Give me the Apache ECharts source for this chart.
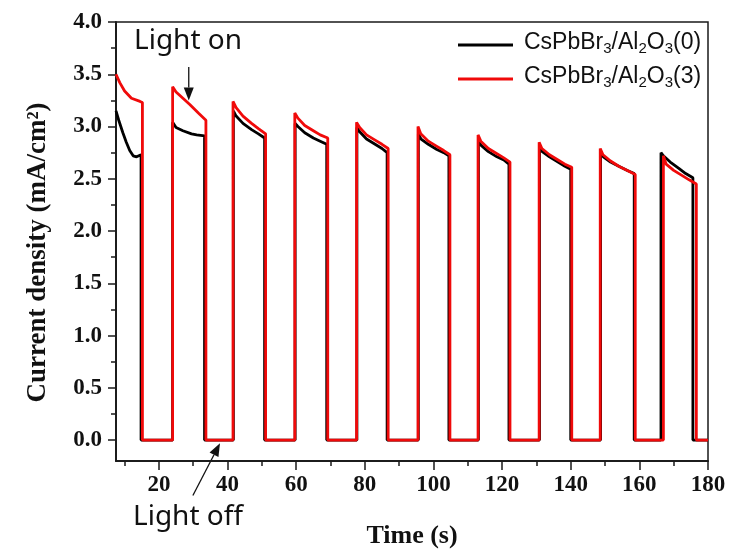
<!DOCTYPE html>
<html>
<head>
  <meta charset="utf-8">
  <title>Current density - Time</title>
  <script src="https://cdn.jsdelivr.net/npm/echarts@6/dist/echarts.min.js"></script>
  <style>
    html, body { margin: 0; padding: 0; background: #fff; }
    #chart { width: 730px; height: 554px; }
  </style>
</head>
<body>
<div id="chart"></div>
<script>
  // 坐标范围和刻度
  var timeRange = [7.5, 180];
  var currentRange = [-0.2, 4.0];
  var timeTicks = [20, 40, 60, 80, 100, 120, 140, 160, 180];
  var timeMinorTicks = [10, 30, 50, 70, 90, 110, 130, 150, 170];
  var currentTicks = [0, 0.5, 1.0, 1.5, 2.0, 2.5, 3.0, 3.5, 4.0];
  var currentMinorTicks = [0.25, 0.75, 1.25, 1.75, 2.25, 2.75, 3.25, 3.75];
  var offLevel = 0;

  var seriesNames = ['CsPbBr3/Al2O3(0)', 'CsPbBr3/Al2O3(3)'];
  var legendRich = [
    '{n|CsPbBr}{s|3}{n|/Al}{s|2}{n|O}{s|3}{n|(0)}',
    '{n|CsPbBr}{s|3}{n|/Al}{s|2}{n|O}{s|3}{n|(3)}'
  ];

  // 光照段 [time, current]
  var blackOn = [
    [[7.5, 3.15], [8.3, 3.06], [9.5, 2.94], [10.5, 2.85], [11.5, 2.77], [12.5, 2.72], [13.5, 2.71], [14.8, 2.73]],
    [[24.0, 3.04], [25.0, 2.99], [27.0, 2.96], [29.5, 2.93], [31.0, 2.92], [33.3, 2.91]],
    [[41.7, 3.15], [42.5, 3.10], [44.5, 3.03], [47.0, 2.97], [49.0, 2.93], [50.8, 2.89]],
    [[59.7, 3.03], [60.5, 3.00], [62.5, 2.94], [65.0, 2.89], [67.0, 2.86], [68.9, 2.83]],
    [[77.7, 2.99], [78.5, 2.95], [80.5, 2.88], [83.0, 2.83], [85.0, 2.79], [86.5, 2.75]],
    [[95.6, 2.93], [96.4, 2.88], [98.5, 2.83], [101.0, 2.78], [103.0, 2.75], [104.5, 2.72]],
    [[113.1, 2.86], [113.9, 2.82], [116.0, 2.76], [118.5, 2.71], [120.5, 2.68], [122.0, 2.64]],
    [[130.9, 2.80], [131.7, 2.76], [133.8, 2.71], [136.3, 2.66], [138.3, 2.62], [140.0, 2.59]],
    [[148.7, 2.75], [149.5, 2.71], [151.6, 2.66], [154.0, 2.62], [156.5, 2.58], [158.5, 2.55]],
    [[166.3, 2.75], [167.0, 2.72], [169.0, 2.66], [171.5, 2.60], [173.5, 2.55], [175.6, 2.51]]
  ];
  var redOn = [
    [[7.5, 3.50], [8.6, 3.42], [10.0, 3.34], [12.0, 3.27], [14.5, 3.24], [15.2, 3.23]],
    [[24.0, 3.38], [25.0, 3.33], [27.0, 3.27], [29.0, 3.21], [31.5, 3.13], [33.7, 3.06]],
    [[41.6, 3.24], [42.5, 3.18], [44.5, 3.10], [47.0, 3.03], [49.0, 2.98], [51.1, 2.93]],
    [[59.6, 3.13], [60.5, 3.08], [62.5, 3.01], [65.0, 2.96], [67.0, 2.92], [69.2, 2.89]],
    [[77.6, 3.04], [78.5, 2.99], [80.5, 2.92], [83.0, 2.87], [85.0, 2.83], [86.8, 2.79]],
    [[95.5, 3.00], [96.3, 2.93], [98.5, 2.86], [101.0, 2.81], [103.0, 2.77], [104.8, 2.73]],
    [[113.0, 2.92], [113.8, 2.86], [116.0, 2.79], [118.5, 2.74], [120.5, 2.70], [122.3, 2.66]],
    [[130.8, 2.85], [131.6, 2.79], [133.8, 2.73], [136.3, 2.68], [138.3, 2.64], [140.3, 2.61]],
    [[148.6, 2.79], [149.4, 2.73], [151.6, 2.67], [154.0, 2.62], [156.5, 2.58], [158.8, 2.54]],
    [[167.0, 2.72], [167.8, 2.64], [170.0, 2.58], [172.5, 2.53], [174.5, 2.49], [176.6, 2.45]]
  ];

  // 注释箭头 [起点, 终点]
  var lightOnArrow = [[28.7, 3.57], [28.7, 3.25]];
  var lightOffArrow = [[29.9, -0.53], [37.8, -0.03]];

  // 光照段之间接上暗电流
  function buildTrace(cycles) {
    var pts = [];
    cycles.forEach(function (seg, i) {
      if (i > 0) pts.push([seg[0][0], offLevel]);
      seg.forEach(function (p) { pts.push(p); });
      pts.push([seg[seg.length - 1][0], offLevel]);
    });
    pts.push([timeRange[1], offLevel]);
    return pts;
  }

  var serif = '"Liberation Serif", "Times New Roman", serif';
  var sans = '"Liberation Sans", Arial, sans-serif';
  var axisColor = '#1a1a1a';

  var chart = echarts.init(document.getElementById('chart'));

  var option = {
    animation: false,
    backgroundColor: '#fff',
    grid: {
      left: 116, right: 22, top: 22, bottom: 92,
      show: true, borderColor: axisColor, borderWidth: 1.5, backgroundColor: 'transparent'
    },
    legend: {
      orient: 'vertical',
      left: 453,
      top: 26,
      itemGap: 6,
      itemWidth: 55,
      itemHeight: 3,
      icon: 'rect',
      data: seriesNames,
      formatter: function (name) {
        return legendRich[seriesNames.indexOf(name)];
      },
      textStyle: {
        padding: [0, 0, 0, 6],
        rich: {
          n: { fontFamily: sans, fontSize: 23, color: '#111', lineHeight: 22, padding: [0, 0, 5, 0] },
          s: { fontFamily: sans, fontSize: 15, color: '#111', lineHeight: 15, verticalAlign: 'bottom' }
        }
      }
    },
    xAxis: [{
      type: 'value',
      position: 'bottom',
      min: timeRange[0], max: timeRange[1],
      name: 'Time (s)',
      nameLocation: 'middle',
      nameGap: 62,
      nameTextStyle: { fontFamily: serif, fontWeight: 'bold', fontSize: 26, color: '#111' },
      splitLine: { show: false },
      axisLine: { onZero: false, lineStyle: { color: axisColor, width: 1.5 } },
      axisTick: { show: true, customValues: timeTicks, length: 9, lineStyle: { color: axisColor, width: 1.5 } },
      axisLabel: {
        customValues: timeTicks, margin: 13,
        fontFamily: serif, fontWeight: 'bold', fontSize: 23, color: '#111'
      }
    }, {
      type: 'value',
      position: 'bottom',
      min: timeRange[0], max: timeRange[1],
      splitLine: { show: false },
      axisLine: { show: true, onZero: false, lineStyle: { color: axisColor, width: 1.5 } },
      axisLabel: { show: false },
      axisTick: { show: true, customValues: timeMinorTicks, length: 5, lineStyle: { color: axisColor, width: 1.5 } }
    }],
    yAxis: [{
      type: 'value',
      position: 'left',
      min: currentRange[0], max: currentRange[1],
      name: 'Current density (mA/cm\u00b2)',
      nameLocation: 'middle',
      nameRotate: 90,
      nameGap: 64,
      nameTextStyle: {
        fontFamily: serif, fontWeight: 'bold', fontSize: 27, color: '#111',
        padding: [0, 22, 0, 0]
      },
      splitLine: { show: false },
      axisLine: { onZero: false, lineStyle: { color: axisColor, width: 1.5 } },
      axisTick: { show: true, customValues: currentTicks, length: 8, lineStyle: { color: axisColor, width: 1.5 } },
      axisLabel: {
        customValues: currentTicks, margin: 14,
        fontFamily: serif, fontWeight: 'bold', fontSize: 23, color: '#111',
        formatter: function (v) { return v.toFixed(1); }
      }
    }, {
      type: 'value',
      position: 'left',
      min: currentRange[0], max: currentRange[1],
      splitLine: { show: false },
      axisLine: { show: true, onZero: false, lineStyle: { color: axisColor, width: 1.5 } },
      axisLabel: { show: false },
      axisTick: { show: true, customValues: currentMinorTicks, length: 5, lineStyle: { color: axisColor, width: 1.5 } }
    }],
    series: [{
      name: seriesNames[0],
      type: 'line',
      xAxisIndex: 0, yAxisIndex: 0,
      symbol: 'none',
      color: '#000',
      lineStyle: { color: '#000', width: 2.8 },
      data: buildTrace(blackOn)
    }, {
      name: seriesNames[1],
      type: 'line',
      xAxisIndex: 0, yAxisIndex: 0,
      symbol: 'none',
      color: '#f00a0a',
      lineStyle: { color: '#f00a0a', width: 2.8 },
      data: buildTrace(redOn)
    }]
  };

  chart.setOption(option);

  // 箭头和文字注释
  function arrowGraphics(pair) {
    var a = chart.convertToPixel({ seriesIndex: 0 }, pair[0]);
    var b = chart.convertToPixel({ seriesIndex: 0 }, pair[1]);
    var dx = b[0] - a[0], dy = b[1] - a[1];
    var len = Math.sqrt(dx * dx + dy * dy);
    var ux = dx / len, uy = dy / len;
    var headLen = 13, headHalf = 5;
    var bx = b[0] - ux * headLen, by = b[1] - uy * headLen;
    return [{
      type: 'line',
      shape: { x1: a[0], y1: a[1], x2: bx, y2: by },
      style: { stroke: '#111', lineWidth: 1.3 }
    }, {
      type: 'polygon',
      shape: { points: [[b[0], b[1]], [bx - uy * headHalf, by + ux * headHalf], [bx + uy * headHalf, by - ux * headHalf]] },
      style: { fill: '#111' }
    }];
  }

  var graphics = [{
    type: 'text', left: 134, top: 27,
    style: { text: 'Light on', fontFamily: '"Noto Sans", sans-serif', fontSize: 28, fill: '#111' }
  }, {
    type: 'text', left: 133, top: 503,
    style: { text: 'Light off', fontFamily: '"Noto Sans", sans-serif', fontSize: 28, fill: '#111' }
  }].concat(arrowGraphics(lightOnArrow), arrowGraphics(lightOffArrow));

  chart.setOption({ graphic: graphics });
</script>
</body>
</html>
